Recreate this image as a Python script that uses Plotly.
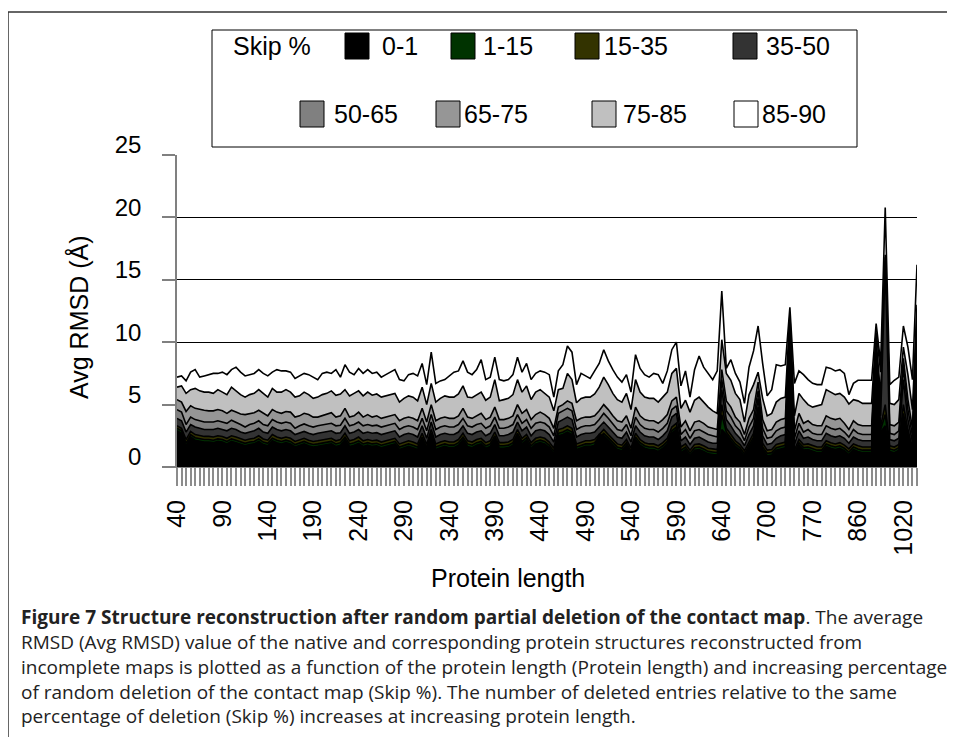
import plotly.graph_objects as go

# protein length categories (x axis)
lengths = list(range(40, 645, 5)) + [
    646, 652, 658, 664, 670, 676, 682, 688, 694, 700,
    707, 714, 721, 728, 735, 742, 749, 756, 763, 770,
    779, 788, 797, 806, 815, 824, 833, 842, 851, 860,
    876, 892, 908, 924, 940, 956, 972, 988, 1004, 1020,
    1050, 1100, 1200]
tick_labels = [40, 90, 140, 190, 240, 290, 340, 390, 440, 490, 540, 590, 640, 700, 770, 860, 1020]

skip_names = ['0-1', '1-15', '15-35', '35-50', '50-65', '65-75', '75-85', '85-90']
skip_colors = ['#000000', '#003300', '#333300', '#333333', '#808080', '#969696', '#C0C0C0', '#FFFFFF']

rmsd_85_90 = [
    7.2, 7.3, 6.9, 7.6, 7.8, 7.2, 7.3, 7.4, 7.5, 7.5,
    7.6, 7.4, 7.8, 8.0, 7.6, 7.3, 7.4, 7.5, 7.8, 7.5,
    7.3, 7.6, 7.8, 7.7, 7.7, 7.6, 7.1, 7.3, 7.5, 7.4,
    7.2, 7.0, 7.5, 7.6, 7.5, 7.8, 7.2, 8.2, 7.6, 7.4,
    7.9, 7.5, 7.8, 7.5, 7.6, 7.2, 7.4, 7.6, 7.8, 7.0,
    6.9, 7.4, 7.5, 7.3, 8.3, 6.6, 9.2, 6.7, 6.9, 7.0,
    7.3, 7.6, 7.7, 8.5, 7.6, 7.4, 7.8, 8.6, 7.0, 7.2,
    8.8, 7.0, 6.9, 7.0, 7.4, 8.8, 7.6, 8.3, 7.0, 7.5,
    7.7, 7.6, 7.4, 5.6, 7.7, 8.2, 9.7, 9.2, 6.6, 7.5,
    7.3, 7.1, 7.7, 8.3, 9.4, 8.5, 7.8, 7.2, 6.8, 7.4,
    6.0, 9.0, 7.9, 7.4, 7.2, 7.5, 7.4, 6.7, 7.7, 9.4,
    10.0, 6.5, 7.7, 5.6, 7.8, 8.9, 8.0, 7.5, 7.0, 7.7,
    14.1, 7.9, 8.6, 7.5, 6.8, 5.1, 8.0, 9.3, 11.3, 8.3,
    5.7, 6.2, 8.2, 8.1, 8.2, 12.8, 6.7, 7.7, 7.4, 7.0,
    6.7, 6.6, 6.6, 8.0, 7.9, 7.7, 7.8, 7.5, 5.8, 6.7,
    6.95, 6.95, 6.95, 6.95, 11.5, 8.3, 20.8, 6.6, 6.95, 7.2,
    11.3, 9.6, 7.0, 16.2]
rmsd_75_85 = [
    6.4, 6.5, 5.9, 6.2, 6.3, 6.1, 6.0, 6.0, 5.9, 6.2,
    6.0, 5.8, 6.4, 6.1, 5.8, 5.6, 5.8, 5.9, 6.2, 5.9,
    5.6, 6.3, 6.0, 6.0, 6.2, 6.0, 5.6, 5.7, 6.0, 5.8,
    5.5, 5.6, 5.8, 5.9, 6.1, 5.75, 5.85, 6.2, 5.7, 5.9,
    6.1, 5.7, 6.0, 5.75, 5.85, 5.6, 5.7, 5.8, 5.9, 5.2,
    5.5, 5.7, 5.6, 5.3, 6.4, 5.0, 6.7, 5.2, 5.5, 5.7,
    5.6, 5.6, 5.85, 6.5, 5.6, 5.55, 5.8, 6.0, 5.35, 5.6,
    7.0, 5.3, 5.4, 5.5, 5.8, 7.0, 6.0, 6.5, 5.4, 6.0,
    6.2, 5.9, 5.6, 4.5, 6.2, 6.3, 7.5, 7.0, 5.15, 5.5,
    5.6, 5.6, 5.85, 6.4, 7.2, 6.6, 5.9, 5.4, 5.2, 5.9,
    4.6, 7.0, 6.0, 5.6, 5.5, 5.5, 5.2, 5.6, 6.0, 7.5,
    7.9, 4.7, 5.35, 4.4, 5.35, 5.6, 5.2, 4.8, 4.5, 4.3,
    10.2, 7.5, 6.95, 5.9, 5.4, 3.6, 5.8, 6.6, 7.6, 5.5,
    4.1, 4.3, 5.2, 5.5, 5.6, 12.2, 4.1, 5.9, 5.4, 5.0,
    4.8, 4.9, 5.0, 6.2, 6.0, 5.8, 5.9, 5.6, 5.05, 5.4,
    5.3, 5.1, 5.1, 5.1, 10.8, 7.6, 17.0, 5.1, 5.0, 5.4,
    9.6, 7.4, 4.6, 13.0]
rmsd_65_75 = [
    5.4, 5.2, 4.45, 4.9, 4.7, 4.6, 4.55, 4.5, 4.5, 4.6,
    4.5, 4.3, 4.55, 4.4, 4.25, 4.2, 4.3, 4.35, 4.55, 4.3,
    4.1, 4.6, 4.4, 4.3, 4.45, 4.4, 4.0, 4.1, 4.3, 4.2,
    4.0, 4.0, 4.1, 4.2, 4.35, 4.0, 4.1, 4.7, 4.0, 4.1,
    4.4, 4.0, 4.2, 4.0, 4.1, 3.9, 4.0, 4.1, 4.2, 3.7,
    3.9, 4.0, 3.9, 3.7, 4.7, 3.6, 5.0, 3.7, 3.9, 4.0,
    3.9, 3.9, 4.1, 4.7, 4.0, 3.9, 4.1, 4.3, 3.8, 4.0,
    4.8, 3.8, 3.8, 3.9, 4.1, 5.0, 4.3, 4.6, 3.8, 4.2,
    4.4, 4.2, 3.9, 3.1, 4.8, 5.0, 5.3, 5.1, 3.7, 3.9,
    4.0, 4.0, 4.1, 4.5, 5.0, 4.6, 4.1, 3.7, 3.6, 4.1,
    3.1, 4.8, 4.1, 3.8, 3.7, 3.7, 3.5, 3.8, 4.2, 5.3,
    5.6, 3.2, 3.7, 2.9, 3.6, 3.7, 3.5, 3.2, 3.1, 3.0,
    7.8, 5.3, 4.8, 4.0, 3.6, 2.6, 3.9, 4.6, 6.8, 3.8,
    2.9, 3.0, 3.6, 3.8, 3.9, 11.8, 2.9, 4.3, 3.5, 3.7,
    3.4, 3.3, 3.3, 4.1, 3.9, 3.8, 3.9, 3.5, 3.0, 3.7,
    3.4, 3.3, 3.3, 3.3, 10.2, 5.6, 16.8, 3.4, 3.3, 3.6,
    8.7, 5.4, 3.1, 12.5]
rmsd_50_65 = [
    4.6, 4.4, 3.4, 4.0, 3.8, 3.7, 3.6, 3.6, 3.6, 3.7,
    3.6, 3.5, 3.75, 3.6, 3.4, 3.2, 3.4, 3.5, 3.7, 3.4,
    3.3, 3.8, 3.6, 3.5, 3.6, 3.5, 3.1, 3.3, 3.45, 3.3,
    3.2, 3.3, 3.35, 3.4, 3.5, 3.3, 3.35, 3.9, 3.3, 3.4,
    3.6, 3.3, 3.4, 3.3, 3.35, 3.2, 3.3, 3.4, 3.5, 3.0,
    3.2, 3.3, 3.2, 3.0, 3.9, 2.9, 4.2, 3.0, 3.2, 3.3,
    3.2, 3.2, 3.4, 3.9, 3.3, 3.2, 3.4, 3.5, 3.1, 3.3,
    4.0, 3.1, 3.1, 3.2, 3.4, 4.2, 3.5, 3.8, 3.1, 3.5,
    3.6, 3.5, 3.2, 2.5, 4.3, 4.5, 4.7, 4.5, 3.0, 3.2,
    3.3, 3.3, 3.4, 3.8, 4.3, 3.9, 3.4, 3.0, 2.9, 3.4,
    2.5, 4.0, 3.4, 3.1, 3.0, 3.0, 2.8, 3.1, 3.5, 4.6,
    4.9, 2.6, 3.0, 2.3, 2.9, 3.0, 2.8, 2.6, 2.5, 2.4,
    7.0, 4.5, 4.0, 3.3, 2.9, 2.1, 3.2, 3.9, 6.1, 3.1,
    2.3, 2.4, 2.9, 3.1, 3.2, 11.5, 2.3, 3.5, 2.8, 3.0,
    2.7, 2.6, 2.6, 3.3, 3.1, 3.0, 3.1, 2.8, 2.4, 3.0,
    2.7, 2.6, 2.6, 2.6, 9.6, 4.8, 16.5, 2.7, 2.6, 2.9,
    8.0, 4.6, 2.5, 12.0]
rmsd_35_50 = [
    3.9, 3.7, 2.8, 3.4, 3.2, 3.1, 3.0, 3.0, 3.0, 3.1,
    3.0, 2.9, 3.1, 3.0, 2.8, 2.7, 2.8, 2.9, 3.1, 2.8,
    2.7, 3.2, 3.0, 2.9, 3.0, 2.9, 2.6, 2.7, 2.85, 2.7,
    2.6, 2.7, 2.75, 2.8, 2.9, 2.7, 2.75, 3.3, 2.7, 2.8,
    3.0, 2.7, 2.8, 2.7, 2.75, 2.6, 2.7, 2.8, 2.9, 2.4,
    2.6, 2.7, 2.6, 2.4, 3.3, 2.3, 3.6, 2.4, 2.6, 2.7,
    2.6, 2.6, 2.8, 3.3, 2.7, 2.6, 2.8, 2.9, 2.5, 2.7,
    3.4, 2.5, 2.5, 2.6, 2.8, 3.6, 2.9, 3.2, 2.5, 2.9,
    3.0, 2.9, 2.6, 2.0, 3.6, 3.8, 4.0, 3.8, 2.4, 2.6,
    2.7, 2.7, 2.8, 3.2, 3.6, 3.2, 2.8, 2.4, 2.3, 2.8,
    2.0, 3.3, 2.8, 2.5, 2.4, 2.4, 2.2, 2.5, 2.9, 4.0,
    4.3, 2.1, 2.4, 1.8, 2.3, 2.4, 2.2, 2.0, 1.9, 1.9,
    6.2, 3.8, 3.3, 2.7, 2.3, 1.7, 2.6, 3.3, 5.5, 2.5,
    1.8, 1.9, 2.3, 2.5, 2.6, 11.2, 1.8, 2.9, 2.3, 2.4,
    2.2, 2.1, 2.1, 2.7, 2.5, 2.4, 2.5, 2.3, 1.9, 2.4,
    2.2, 2.1, 2.1, 2.1, 9.0, 4.1, 16.3, 2.2, 2.1, 2.3,
    7.0, 3.8, 2.0, 11.5]
rmsd_15_35 = [
    3.3, 3.1, 2.2, 2.85, 2.6, 2.5, 2.45, 2.45, 2.4, 2.5,
    2.45, 2.3, 2.5, 2.4, 2.25, 2.15, 2.25, 2.3, 2.5, 2.25,
    2.15, 2.6, 2.4, 2.3, 2.4, 2.3, 2.05, 2.15, 2.3, 2.15,
    2.05, 2.1, 2.15, 2.2, 2.3, 2.1, 2.2, 2.7, 2.1, 2.2,
    2.4, 2.1, 2.2, 2.1, 2.15, 2.0, 2.1, 2.2, 2.3, 1.85,
    2.0, 2.1, 2.0, 1.85, 2.7, 1.8, 3.0, 1.85, 2.0, 2.1,
    2.0, 2.0, 2.2, 2.7, 2.1, 2.0, 2.2, 2.3, 1.95, 2.1,
    2.8, 1.95, 1.95, 2.0, 2.2, 3.0, 2.3, 2.6, 1.95, 2.3,
    2.4, 2.3, 2.0, 1.5, 3.0, 3.1, 3.3, 3.1, 1.85, 2.0,
    2.1, 2.1, 2.2, 2.6, 3.0, 2.6, 2.2, 1.85, 1.75, 2.2,
    1.5, 2.7, 2.2, 1.95, 1.85, 1.85, 1.7, 1.95, 2.3, 3.2,
    3.5, 1.6, 1.85, 1.35, 1.8, 1.85, 1.7, 1.5, 1.45, 1.4,
    5.0, 3.1, 2.6, 2.1, 1.8, 1.3, 2.0, 2.7, 4.8, 1.9,
    1.35, 1.4, 1.8, 1.9, 2.0, 10.9, 1.35, 2.2, 1.8, 1.85,
    1.7, 1.6, 1.6, 2.1, 1.95, 1.85, 1.95, 1.75, 1.45, 1.85,
    1.7, 1.6, 1.6, 1.6, 8.0, 3.3, 5.0, 1.7, 1.6, 1.8,
    5.0, 3.0, 1.5, 10.5]
rmsd_1_15 = [
    3.1, 2.9, 1.9, 2.6, 2.35, 2.25, 2.2, 2.2, 2.15, 2.25,
    2.2, 2.05, 2.25, 2.15, 2.0, 1.9, 2.0, 2.05, 2.25, 2.0,
    1.9, 2.3, 2.15, 2.05, 2.15, 2.05, 1.8, 1.9, 2.05, 1.9,
    1.8, 1.85, 1.9, 1.95, 2.05, 1.85, 1.95, 2.4, 1.85, 1.95,
    2.1, 1.85, 1.95, 1.85, 1.9, 1.75, 1.85, 1.95, 2.05, 1.6,
    1.75, 1.85, 1.75, 1.6, 2.4, 1.55, 2.7, 1.6, 1.75, 1.85,
    1.75, 1.75, 1.95, 2.4, 1.85, 1.75, 1.95, 2.05, 1.7, 1.85,
    2.5, 1.7, 1.7, 1.75, 1.95, 2.7, 2.05, 2.35, 1.7, 2.05,
    2.15, 2.05, 1.75, 1.25, 2.7, 2.8, 3.0, 2.8, 1.6, 1.75,
    1.85, 1.85, 1.95, 2.35, 2.7, 2.35, 1.95, 1.6, 1.5, 1.95,
    1.25, 2.4, 1.95, 1.7, 1.6, 1.6, 1.45, 1.7, 2.05, 2.9,
    3.2, 1.35, 1.6, 1.1, 1.55, 1.6, 1.45, 1.25, 1.2, 1.15,
    4.2, 2.8, 2.3, 1.85, 1.55, 1.05, 1.75, 2.4, 4.4, 1.6,
    1.1, 1.15, 1.55, 1.65, 1.75, 10.7, 1.1, 1.95, 1.55, 1.6,
    1.45, 1.35, 1.35, 1.85, 1.7, 1.6, 1.7, 1.5, 1.2, 1.6,
    1.45, 1.35, 1.35, 1.35, 7.5, 3.0, 4.2, 1.45, 1.35, 1.55,
    4.3, 2.6, 1.25, 10.0]
rmsd_0_1 = [
    2.9, 2.7, 1.65, 2.4, 2.15, 2.05, 2.0, 2.0, 1.95, 2.05,
    2.0, 1.85, 2.05, 1.95, 1.8, 1.7, 1.8, 1.85, 2.05, 1.8,
    1.7, 2.1, 1.95, 1.85, 1.95, 1.85, 1.6, 1.7, 1.85, 1.7,
    1.6, 1.65, 1.7, 1.75, 1.85, 1.65, 1.75, 2.2, 1.65, 1.75,
    1.9, 1.65, 1.75, 1.65, 1.7, 1.55, 1.65, 1.75, 1.85, 1.4,
    1.55, 1.65, 1.55, 1.4, 2.2, 1.35, 2.5, 1.4, 1.55, 1.65,
    1.55, 1.55, 1.75, 2.2, 1.65, 1.55, 1.75, 1.85, 1.5, 1.65,
    2.3, 1.5, 1.5, 1.55, 1.75, 2.5, 1.85, 2.15, 1.5, 1.85,
    1.95, 1.85, 1.55, 1.05, 2.5, 2.6, 2.8, 2.6, 1.4, 1.55,
    1.65, 1.65, 1.75, 2.6, 2.5, 2.15, 1.75, 1.4, 1.3, 1.75,
    1.05, 2.2, 1.75, 1.5, 1.4, 1.4, 1.25, 1.5, 1.85, 2.7,
    3.0, 1.15, 1.4, 0.9, 1.35, 1.4, 1.25, 1.05, 1.0, 0.95,
    3.0, 2.6, 2.1, 1.65, 1.35, 0.85, 1.55, 2.2, 4.0, 1.4,
    0.9, 0.95, 1.35, 1.45, 1.55, 10.5, 0.9, 1.75, 1.35, 1.4,
    1.25, 1.15, 1.15, 1.65, 1.5, 1.4, 1.5, 1.3, 1.0, 1.4,
    1.25, 1.15, 1.15, 1.15, 7.0, 2.8, 3.3, 1.25, 1.15, 1.35,
    4.0, 2.4, 1.05, 9.5]

series = [rmsd_0_1, rmsd_1_15, rmsd_15_35, rmsd_35_50, rmsd_50_65, rmsd_65_75, rmsd_75_85, rmsd_85_90]

# page offset (body margin) and plot area in screen pixels
OFF = 8
FIG_W, FIG_H = 955 - OFF, 737 - OFF
L, R, T, B = 177, 917, 155, 467
W, H = R - L, B - T


def px(x):
    return (x - L) / W


def py(y):
    return (B - y) / H


cats = [str(v) for v in lengths]
ticktext = [str(v) if v in tick_labels else '' for v in lengths]
font = 'Liberation Sans, Arial, sans-serif'

fig = go.Figure()

# highest skip first so lower skip areas sit in front
for name, color, vals in reversed(list(zip(skip_names, skip_colors, series))):
    fig.add_trace(go.Scatter(
        x=cats, y=vals, name=name, mode='lines', fill='tozeroy',
        fillcolor=color, line=dict(color='black', width=1.6),
        showlegend=False
    ))

fig.update_layout(
    width=FIG_W, height=FIG_H,
    margin=dict(l=L - OFF, r=FIG_W - (R - OFF), t=T - OFF, b=FIG_H - (B - OFF)),
    paper_bgcolor='white', plot_bgcolor='white',
    font=dict(family=font, size=24, color='black'),
    xaxis=dict(
        type='category', range=[0, len(cats) - 1], automargin=False,
        tickmode='array', tickvals=cats, ticktext=ticktext, tickangle=-90,
        ticks='outside', ticklen=18, tickwidth=2, tickcolor='#8c8c8c',
        ticklabelstandoff=4, showgrid=False, showline=True, linecolor='#808080',
        tickfont=dict(size=25)
    ),
    yaxis=dict(
        range=[0, 25], dtick=5, automargin=False,
        ticks='outside', ticklen=13, tickcolor='#808080', tickwidth=1.5,
        showline=True, linecolor='#808080', linewidth=1.5,
        showgrid=True, gridcolor='black', gridwidth=1, zeroline=False,
        ticklabelshift=-10, ticklabelstandoff=16, tickfont=dict(size=24)
    ),
)

shapes = []
annotations = []

# figure frame
shapes.append(dict(type='line', xref='paper', yref='paper', x0=px(8), x1=px(954), y0=py(12), y1=py(12),
                   line=dict(color='#333333', width=1.5)))
shapes.append(dict(type='line', xref='paper', yref='paper', x0=px(8), x1=px(8), y0=py(12), y1=py(737),
                   line=dict(color='#333333', width=1.5)))

# legend box
shapes.append(dict(type='rect', xref='paper', yref='paper', x0=px(212), x1=px(857), y0=py(30), y1=py(147),
                   line=dict(color='black', width=1), fillcolor='white'))
annotations.append(dict(text='Skip %', x=px(231), y=py(46), xref='paper', yref='paper',
                        xanchor='left', yanchor='middle', showarrow=False, font=dict(size=25)))
swatch_x = [345, 451, 575, 733, 300, 436, 592, 734]
text_x = [380, 481, 602, 764, 332, 462, 621, 760]
row_y = [46, 46, 46, 46, 114, 114, 114, 114]
for name, color, sx, tx, ry in zip(skip_names, skip_colors, swatch_x, text_x, row_y):
    shapes.append(dict(type='rect', xref='paper', yref='paper', x0=px(sx), x1=px(sx + 24),
                       y0=py(ry - 13), y1=py(ry + 13), line=dict(color='black', width=1), fillcolor=color))
    annotations.append(dict(text=name, x=px(tx), y=py(ry), xref='paper', yref='paper',
                            xanchor='left', yanchor='middle', showarrow=False, font=dict(size=25)))

# axis titles
annotations.append(dict(text='Protein length', x=px(508), y=py(578), xref='paper', yref='paper',
                        xanchor='center', yanchor='middle', showarrow=False, font=dict(size=25)))
annotations.append(dict(text='Avg RMSD (Å)', x=px(78), y=py(318), xref='paper', yref='paper',
                        xanchor='center', yanchor='middle', showarrow=False, textangle=-90,
                        font=dict(size=25)))

# caption
caption = [
    '<b>Figure 7 Structure reconstruction after random partial deletion of the contact map</b>. The average',
    'RMSD (Avg RMSD) value of the native and corresponding protein structures reconstructed from',
    'incomplete maps is plotted as a function of the protein length (Protein length) and increasing percentage',
    'of random deletion of the contact map (Skip %). The number of deleted entries relative to the same',
    'percentage of deletion (Skip %) increases at increasing protein length.',
]
for line, cy in zip(caption, [617, 642, 667, 692, 716]):
    annotations.append(dict(text=line, x=px(19), y=py(cy), xref='paper', yref='paper',
                            xanchor='left', yanchor='middle', showarrow=False,
                            font=dict(family='Open Sans, sans-serif', size=19, color='#222222')))

fig.update_layout(shapes=shapes, annotations=annotations)

fig.write_html("out.html")
